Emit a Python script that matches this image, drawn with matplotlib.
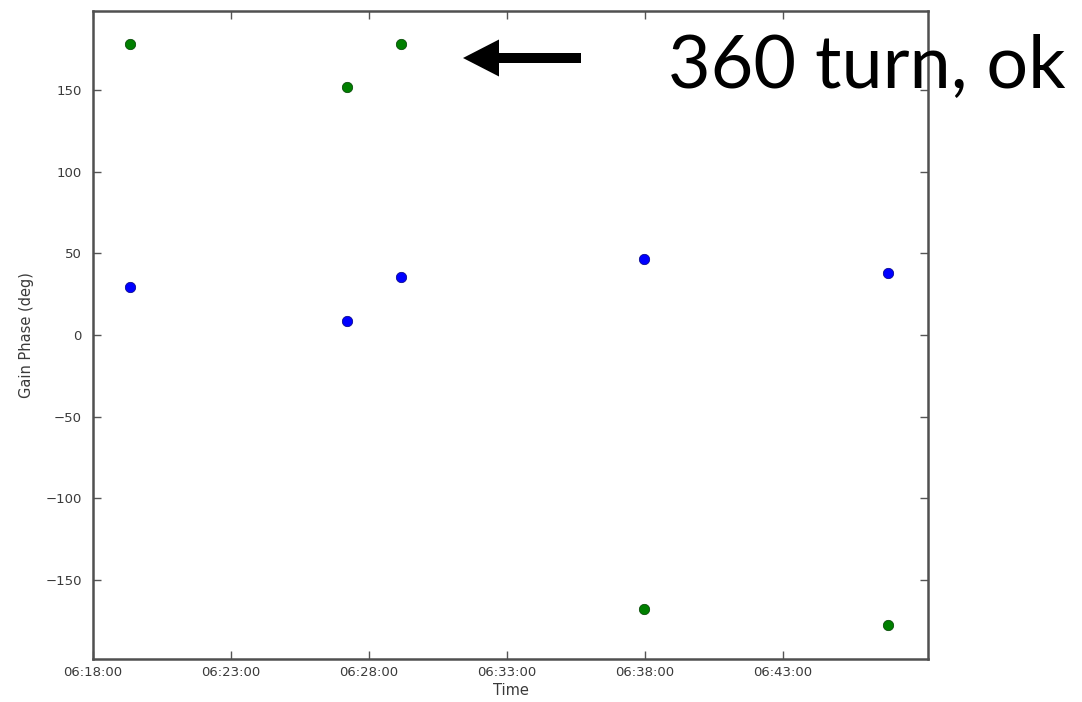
import matplotlib
matplotlib.use("Agg")
import matplotlib.pyplot as plt
import matplotlib.dates as mdates
from matplotlib.patches import FancyArrow
from datetime import datetime

# Solution times and gain phases for the two polarisations
times = ["06:19:20", "06:27:12", "06:29:10", "06:37:58", "06:46:48"]
phase_pol1 = [29.4, 8.6, 35.5, 46.5, 38.0]
phase_pol2 = [178.2, 151.9, 178.2, -167.8, -177.6]
yticks = [-150, -100, -50, 0, 50, 100, 150]
xtick_labels = ["06:18:00", "06:23:00", "06:28:00", "06:33:00", "06:38:00", "06:43:00"]

day = "2014-01-01 "
t = [datetime.strptime(day + s, "%Y-%m-%d %H:%M:%S") for s in times]
xt = [datetime.strptime(day + s, "%Y-%m-%d %H:%M:%S") for s in xtick_labels]

fig = plt.figure(figsize=(10.82, 7.02), dpi=100)
ax = fig.add_axes([93 / 1082, 1 - 659 / 702, (928 - 93) / 1082, (659 - 11) / 702])

ax.plot(t, phase_pol1, "o", color="#0000ff", markeredgecolor="#000080",
        markeredgewidth=0.5, markersize=7.5, linestyle="none")
ax.plot(t, phase_pol2, "o", color="#007f00", markeredgecolor="#003f00",
        markeredgewidth=0.5, markersize=7.5, linestyle="none")

ax.set_xlim(xt[0], datetime.strptime(day + "06:48:15", "%Y-%m-%d %H:%M:%S"))
ax.set_ylim(-198.5, 198.5)
ax.set_xticks(xt)
ax.xaxis.set_major_formatter(mdates.DateFormatter("%H:%M:%S"))
ax.set_yticks(yticks)
ax.set_yticklabels([str(v).replace("-", "\u2212") for v in yticks])

ax.tick_params(direction="in", top=True, right=True, length=6, width=1,
               color="#555555", labelsize=9.5, labelcolor="#3a3a3a")
ax.tick_params(axis="x", pad=5)
ax.tick_params(axis="y", pad=8)
for sp in ax.spines.values():
    sp.set_linewidth(1.8)
    sp.set_color("#505050")

ax.set_xlabel("Time", fontsize=10.5, color="#3a3a3a", labelpad=3)
ax.set_ylabel("Gain Phase (deg)", fontsize=10.5, color="#3a3a3a", labelpad=8)

# Annotation for the phase wrap
fig.text(668 / 1082, 1 - 88 / 702, "360 turn, ok", fontsize=53, family="Lato",
         color="black", ha="left", va="baseline")
fig.patches.append(FancyArrow(5.81, (702 - 58) / 100, -1.18, 0, width=0.10,
                              head_width=0.37, head_length=0.36,
                              length_includes_head=True, color="black",
                              linewidth=0, transform=fig.dpi_scale_trans,
                              figure=fig))

fig.savefig("out.png", dpi=100)
